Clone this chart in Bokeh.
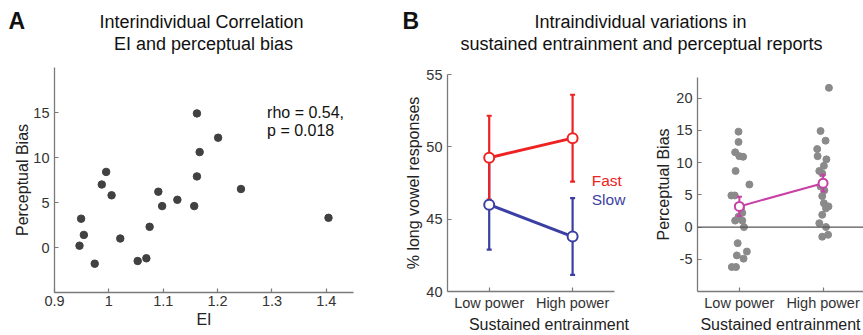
from bokeh.plotting import figure
from bokeh.models import Range1d, FixedTicker, Label, Span
from bokeh.layouts import column, row
from bokeh.embed import file_html
from bokeh.resources import INLINE

# ---------------- data ----------------
# Panel A: EI vs perceptual bias (one point per participant)
ei_values = [0.946, 0.949, 0.954, 0.974, 0.987, 0.995, 1.005, 1.021, 1.053, 1.069, 1.075,
             1.091, 1.098, 1.126, 1.157, 1.162, 1.162, 1.167, 1.201, 1.243, 1.404]
bias_values = [0.2, 3.2, 1.4, -1.8, 7.0, 8.4, 5.8, 1.0, -1.5, -1.2, 2.3,
               6.2, 4.6, 5.3, 4.6, 14.9, 7.9, 10.6, 12.2, 6.5, 3.3]
a_xticks = [0.9, 1.0, 1.1, 1.2, 1.3, 1.4]
a_xlabels = ["0.9", "1", "1.1", "1.2", "1.3", "1.4"]
a_yticks = [0, 5, 10, 15]
a_ylabels = ["0", "5", "10", "15"]
rho_text = ["rho = 0.54,", "p = 0.018"]

# Panel B left: % long vowel responses
conditions = ["Low power", "High power"]
cond_pos = [1, 2]
fast_mean = [49.25, 50.6]
fast_err = [2.9, 3.0]
slow_mean = [46.0, 43.8]
slow_err = [3.1, 2.65]
b1_yticks = [40, 45, 50, 55]
b1_ylabels = ["40", "45", "50", "55"]

# Panel B right: perceptual bias per participant (with horizontal jitter)
low_bias = [14.8, 13.2, 11.6, 11.0, 10.9, 8.7, 6.6, 4.9, 4.9, 2.9, 2.2, 1.6, 1.0, 1.0, 0.0,
            -2.5, -3.8, -4.4, -4.9, -6.2, -6.2]
low_jitter = [-0.01, -0.01, -0.05, 0.0, 0.045, -0.045, 0.12, -0.095, -0.055, 0.02, 0.035, -0.01,
              -0.05, 0.035, 0.055, -0.02, 0.09, -0.03, 0.05, -0.09, -0.04]
high_bias = [21.6, 14.9, 13.4, 12.1, 11.0, 10.5, 9.5, 8.7, 8.3, 7.0, 6.3, 5.7, 4.8, 3.7, 3.2,
             2.9, 1.9, 0.6, 0.0, -1.2, -1.5]
high_jitter = [0.07, -0.03, 0.03, -0.07, -0.065, 0.04, 0.01, -0.045, -0.01, 0.0, -0.03, 0.015,
               -0.01, 0.01, 0.065, 0.035, -0.01, -0.045, 0.035, 0.06, -0.01]
bias_mean = [3.2, 6.8]
bias_err = [1.5, 1.3]
b2_yticks = [-5, 0, 5, 10, 15, 20]
b2_ylabels = ["-5", "0", "5", "10", "15", "20"]

# ---------------- style ----------------
FONT = "Liberation Sans"
AXC = "#7a7a7a"
RED = "#ee2222"
BLUE = "#3b3fa3"
MAG = "#c840a6"


def style_axes(p, xticks, xlabels, yticks, ylabels, xlab, ylab, ystand=5, ylabstand=3):
    for ax in (p.xaxis[0], p.yaxis[0]):
        ax.axis_line_color = AXC
        ax.axis_line_width = 1.3
        ax.major_tick_line_color = AXC
        ax.major_tick_line_width = 1.2
        ax.major_tick_in = 4
        ax.major_tick_out = 0
        ax.minor_tick_line_color = None
        ax.major_label_text_font = FONT
        ax.major_label_text_font_size = "14.5px"
        ax.major_label_text_color = "#333333"
        ax.axis_label_text_font = FONT
        ax.axis_label_text_font_size = "16px"
        ax.axis_label_text_font_style = "normal"
        ax.axis_label_text_color = "#222222"
    p.xaxis[0].major_label_standoff = 3
    p.xaxis[0].axis_label_standoff = 2
    p.yaxis[0].major_label_standoff = ystand
    p.yaxis[0].axis_label_standoff = ylabstand
    p.xaxis[0].ticker = FixedTicker(ticks=xticks)
    p.xaxis[0].major_label_overrides = {t: l for t, l in zip(xticks, xlabels)}
    p.yaxis[0].ticker = FixedTicker(ticks=yticks)
    p.yaxis[0].major_label_overrides = {t: l for t, l in zip(yticks, ylabels)}
    p.xaxis[0].axis_label = xlab
    p.yaxis[0].axis_label = ylab
    p.xgrid.visible = False
    p.ygrid.visible = False
    p.outline_line_color = None
    p.background_fill_color = "white"
    p.border_fill_color = "white"


PH = 277

# ---------------- header ----------------
hdr = figure(width=863, height=58, x_range=Range1d(0, 863), y_range=Range1d(58, 0),
             x_axis_type=None, y_axis_type=None, toolbar_location=None,
             output_backend="svg", min_border=0, frame_align=False)
hdr.outline_line_color = None
hdr.xgrid.visible = False
hdr.ygrid.visible = False
for x, y, t, al, sz, st in [
    (8, 20, "A", "left", "23px", "bold"),
    (201, 21.5, "Interindividual Correlation", "center", "18px", "normal"),
    (203, 43.5, "EI and perceptual bias", "center", "18px", "normal"),
    (402, 20, "B", "left", "23px", "bold"),
    (640, 21.5, "Intraindividual variations in", "center", "18px", "normal"),
    (641, 43.5, "sustained entrainment and perceptual reports", "center", "18px", "normal"),
]:
    hdr.add_layout(Label(x=x, y=y, text=t, text_align=al, text_baseline="alphabetic",
                         text_font=FONT, text_font_size=sz, text_font_style=st,
                         text_color="#111111"))

# ---------------- panel A ----------------
pA = figure(width=380, height=PH, x_range=Range1d(0.9, 1.45), y_range=Range1d(-5, 20),
            toolbar_location=None, output_backend="svg", frame_align=False,
            min_border_left=54, min_border_right=27, min_border_top=9, min_border_bottom=43)
style_axes(pA, a_xticks, a_xlabels, a_yticks, a_ylabels, "EI", "Perceptual Bias",
           ystand=5, ylabstand=-1)
pA.scatter(ei_values, bias_values, size=7.5, color="#414141")
pA.add_layout(Label(x=1.291, y=15.0, text=rho_text[0], text_font=FONT,
                    text_font_size="16px", text_color="#111111", text_baseline="alphabetic"))
pA.add_layout(Label(x=1.291, y=13.03, text=rho_text[1], text_font=FONT,
                    text_font_size="16px", text_color="#111111", text_baseline="alphabetic"))

# ---------------- panel B left ----------------
pB1 = figure(width=270, height=PH, x_range=Range1d(0.5, 2.934), y_range=Range1d(40, 55),
             toolbar_location=None, output_backend="svg", frame_align=False,
             min_border_left=67, min_border_right=0, min_border_top=16, min_border_bottom=44)
style_axes(pB1, cond_pos, conditions, b1_yticks, b1_ylabels,
           "Sustained entrainment", "% long vowel responses", ystand=5, ylabstand=1)
pB1.xaxis[0].bounds = (0.5, 2.5)


def errbars(p, xs, m, e, color, lw):
    lo = [a - b for a, b in zip(m, e)]
    hi = [a + b for a, b in zip(m, e)]
    p.segment(xs, lo, xs, hi, line_color=color, line_width=lw)
    p.scatter(xs, lo, marker="dash", size=5, line_color=color, line_width=lw)
    p.scatter(xs, hi, marker="dash", size=5, line_color=color, line_width=lw)


errbars(pB1, cond_pos, slow_mean, slow_err, BLUE, 2.2)
errbars(pB1, cond_pos, fast_mean, fast_err, RED, 2.2)
pB1.line(cond_pos, fast_mean, line_color=RED, line_width=3)
pB1.line(cond_pos, slow_mean, line_color=BLUE, line_width=3)
pB1.scatter(cond_pos, fast_mean, size=10, fill_color="white", line_color=RED, line_width=2)
pB1.scatter(cond_pos, slow_mean, size=10, fill_color="white", line_color=BLUE, line_width=2)
pB1.add_layout(Label(x=2.23, y=47.68, text="Fast", text_font=FONT, text_font_size="15.5px",
                     text_color=RED, text_baseline="alphabetic"))
pB1.add_layout(Label(x=2.23, y=46.36, text="Slow", text_font=FONT, text_font_size="15.5px",
                     text_color=BLUE, text_baseline="alphabetic"))

# ---------------- panel B right ----------------
pB2 = figure(width=213, height=PH, x_range=Range1d(0.5, 2.483), y_range=Range1d(-10, 23.2),
             toolbar_location=None, output_backend="svg", frame_align=False,
             min_border_left=47, min_border_right=0, min_border_top=19, min_border_bottom=43)
style_axes(pB2, cond_pos, conditions, b2_yticks, b2_ylabels,
           "Sustained entrainment", "Perceptual Bias", ystand=5, ylabstand=1)
pB2.add_layout(Span(location=0, dimension="width", line_color="#555555", line_width=1.3))
pB2.scatter([cond_pos[0] + j for j in low_jitter], low_bias, size=7, color="#8a8a8a")
pB2.scatter([cond_pos[1] + j for j in high_jitter], high_bias, size=7, color="#8a8a8a")
errbars(pB2, cond_pos, bias_mean, bias_err, MAG, 2)
pB2.line(cond_pos, bias_mean, line_color=MAG, line_width=2)
pB2.scatter(cond_pos, bias_mean, size=9, fill_color="white", line_color=MAG, line_width=2)

layout = column(hdr, row(pA, pB1, pB2, spacing=0), spacing=0)

with open("out.html", "w") as f:
    f.write(file_html(layout, INLINE))
